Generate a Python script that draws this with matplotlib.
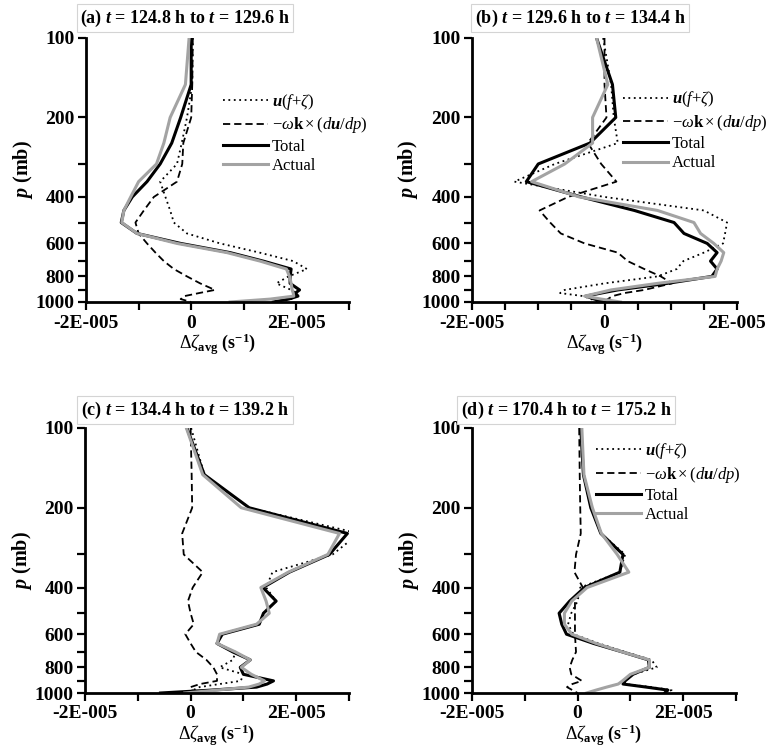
import matplotlib
matplotlib.use("Agg")
import matplotlib.pyplot as plt
from matplotlib.ticker import NullLocator

plt.rcParams['font.family'] = ['Liberation Serif', 'DejaVu Serif']
plt.rcParams['mathtext.fontset'] = 'custom'
plt.rcParams['mathtext.rm'] = 'Liberation Serif'
plt.rcParams['mathtext.it'] = 'Liberation Serif:italic'
plt.rcParams['mathtext.bf'] = 'Liberation Serif:bold'
plt.rcParams['mathtext.bfit'] = 'Liberation Serif:italic:bold'

# pressure levels (mb)
levels = [100, 150, 200, 250, 300, 350, 400, 450, 500, 550, 600, 650, 700,
          750, 800, 850, 900, 925, 950, 975, 1000]

# vorticity change terms, in units of 1E-005 s-1
a_adv = [0.03, 0.02, -0.08, -0.18, -0.27, -0.59, -0.49, -0.40, -0.33, -0.08, 0.55,
         1.30, 1.94, 2.20, 1.85, 1.62, 1.90, 2.00, 1.98, 1.90, 1.70]
a_tilt = [0.03, 0.02, 0.00, -0.15, -0.17, -0.27, -0.71, -0.90, -1.06, -1.00, -0.84,
          -0.68, -0.52, -0.33, -0.08, 0.17, 0.45, 0.15, -0.13, -0.20, 0.00]
a_total = [0.00, 0.00, -0.20, -0.37, -0.59, -0.84, -1.12, -1.28, -1.33, -1.03, -0.20,
           0.74, 1.37, 1.90, 1.88, 1.88, 2.06, 1.98, 2.03, 1.85, 1.56]
a_actual = [-0.04, -0.11, -0.40, -0.52, -0.66, -1.00, -1.15, -1.28, -1.32, -1.03, -0.27,
            0.68, 1.31, 1.81, 1.87, 1.90, 1.92, 1.94, 1.95, 1.50, 0.74]

b_adv = [-0.02, 0.10, 0.14, 0.20, -0.75, -1.36, 0.00, 1.50, 1.85, 1.82, 1.79,
         1.50, 1.19, 1.09, 0.80, 0.00, -0.60, -0.67, -0.32, -0.20, -0.10]
b_tilt = [0.00, 0.00, 0.03, -0.25, -0.05, 0.18, -0.55, -0.98, -0.82, -0.66, -0.30,
          0.20, 0.35, 0.60, 0.85, 1.02, 0.60, 0.30, 0.12, 0.05, -0.01]
b_total = [-0.12, 0.12, 0.17, -0.22, -1.00, -1.18, -0.35, 0.45, 1.05, 1.20, 1.55,
           1.70, 1.60, 1.70, 1.62, 0.95, 0.20, -0.05, -0.28, -0.15, 0.00]
b_actual = [-0.12, 0.05, -0.18, -0.18, -0.60, -1.10, -0.38, 0.80, 1.35, 1.45, 1.65,
            1.80, 1.76, 1.70, 1.67, 0.80, 0.10, -0.10, -0.30, -0.05, 0.24]

c_adv = [0.01, 0.26, 1.11, 3.19, 2.69, 1.55, 1.43, 1.62, 1.38, 1.30, 0.60,
         0.50, 0.85, 0.80, 0.55, 1.00, 0.95, 0.55, 0.17, 0.05, 0.10]
c_tilt = [0.00, 0.02, 0.03, -0.16, -0.13, 0.23, 0.04, -0.05, 0.00, 0.06, -0.10,
          0.00, 0.10, 0.30, 0.43, 0.50, 0.50, 0.18, 0.00, 0.05, -0.10]
c_total = [-0.07, 0.26, 1.11, 2.97, 2.63, 1.87, 1.37, 1.62, 1.38, 1.30, 0.60,
           0.50, 0.80, 1.13, 0.94, 1.00, 1.57, 1.45, 1.25, 0.40, -0.57]
c_actual = [-0.08, 0.23, 0.96, 2.82, 2.60, 1.85, 1.33, 1.43, 1.49, 1.25, 0.55,
            0.50, 0.85, 1.13, 0.96, 1.15, 1.40, 1.30, 1.10, 0.50, -0.11]

d_adv = [0.06, 0.11, 0.25, 0.44, 0.90, 0.80, 0.05, 0.00, -0.12, -0.18, -0.08,
         0.40, 0.90, 1.40, 1.50, 1.05, 0.90, 0.90, 1.40, 1.78, 1.60]
d_tilt = [0.03, 0.04, 0.05, 0.06, -0.03, -0.06, 0.10, -0.05, -0.05, -0.05, -0.05,
          -0.04, -0.03, -0.10, -0.15, -0.12, 0.08, -0.10, -0.20, -0.10, 0.00]
d_total = [0.06, 0.11, 0.25, 0.44, 0.86, 0.80, 0.13, -0.15, -0.35, -0.30, -0.21,
           0.30, 0.85, 1.34, 1.36, 1.05, 0.90, 0.86, 1.30, 1.71, 1.65]
d_actual = [0.08, 0.12, 0.28, 0.45, 0.75, 0.97, 0.18, -0.11, -0.25, -0.25, -0.11,
            0.35, 0.85, 1.36, 1.36, 1.00, 0.85, 0.77, 0.55, 0.35, 0.17]

titles = ["(a) $\\mathbfit{t}$ = 124.8 h to $\\mathbfit{t}$ = 129.6 h",
          "(b) $\\mathbfit{t}$ = 129.6 h to $\\mathbfit{t}$ = 134.4 h",
          "(c) $\\mathbfit{t}$ = 134.4 h to $\\mathbfit{t}$ = 139.2 h",
          "(d) $\\mathbfit{t}$ = 170.4 h to $\\mathbfit{t}$ = 175.2 h"]
labels = [r"$\mathbfit{u}(f$+$\zeta)$", r"$-\omega\mathbf{k}\times(d\mathbfit{u}/dp)$",
          "Total", "Actual"]

p_ticks = [100, 200, 300, 400, 500, 600, 700, 800, 900, 1000]
p_ticklabels = ["100", "200", "", "400", "", "600", "", "800", "", "1000"]
x_ticks_wide = [-2, -1, 0, 1, 2, 3]
x_labels_wide = ["-2E-005", "", "0", "", "2E-005", ""]
x_ticks_narrow = [-2, -1.5, -1, -0.5, 0, 0.5, 1, 1.5, 2]
x_labels_narrow = ["-2E-005", "", "", "", "0", "", "", "", "2E-005"]

W, H = 767, 751
fig = plt.figure(figsize=(W / 100, H / 100), dpi=100)

# panel boxes in pixels: left, top, right, bottom
boxes = [(86, 38, 349, 302), (472, 38, 737, 302), (85, 428, 349, 693), (472, 428, 736, 693)]
title_pos = [(185, 18), (580, 18), (185, 410), (566, 410)]
legend_pos = [(0.52, 0.795), (0.57, 0.805), None, (0.47, 0.95)]
panels = [(a_adv, a_tilt, a_total, a_actual), (b_adv, b_tilt, b_total, b_actual),
          (c_adv, c_tilt, c_total, c_actual), (d_adv, d_tilt, d_total, d_actual)]

gray = '#a3a3a3'
for i, (data, box) in enumerate(zip(panels, boxes)):
    l, t, r, b = box
    ax = fig.add_axes([l / W, 1 - b / H, (r - l) / W, (b - t) / H])
    adv, tilt, total, actual = data
    ax.plot([v * 1e-5 for v in adv], levels, color='black', lw=1.3, ls=(0, (1, 2)), label=labels[0])
    ax.plot([v * 1e-5 for v in tilt], levels, color='black', lw=1.3, ls=(0, (4, 2.2)), label=labels[1])
    ax.plot([v * 1e-5 for v in total], levels, color='black', lw=2.2, label=labels[2])
    ax.plot([v * 1e-5 for v in actual], levels, color=gray, lw=2.2, label=labels[3])

    ax.set_yscale('log')
    ax.set_ylim(1000, 100)
    ax.set_yticks(p_ticks)
    ax.set_yticklabels(p_ticklabels)
    ax.yaxis.set_minor_locator(NullLocator())
    if i == 1:
        ax.set_xlim(-2e-5, 2e-5)
        ax.set_xticks([v * 1e-5 for v in x_ticks_narrow])
        ax.set_xticklabels(x_labels_narrow)
    else:
        ax.set_xlim(-2e-5, 3e-5)
        ax.set_xticks([v * 1e-5 for v in x_ticks_wide])
        ax.set_xticklabels(x_labels_wide)

    for s in ['top', 'right']:
        ax.spines[s].set_visible(False)
    for s in ['left', 'bottom']:
        ax.spines[s].set_linewidth(2.0)
    ax.tick_params(axis='both', width=1.6, length=6, labelsize=14)
    ax.tick_params(axis='y', pad=2)
    ax.tick_params(axis='x', pad=3)
    for lab in ax.get_xticklabels() + ax.get_yticklabels():
        lab.set_fontweight('bold')

    ax.set_ylabel(r"$\mathbfit{p}$ (mb)", fontsize=14.5, fontweight='bold')
    ax.yaxis.set_label_coords(-0.195, 0.5)
    ax.set_xlabel(r"$\Delta\zeta_{\mathbf{avg}}$ (s$^{\mathbf{-1}}$)", fontsize=13, fontweight='bold')
    ax.xaxis.set_label_coords(0.5, -0.112)

    tx, ty = title_pos[i]
    fig.text(tx / W, 1 - ty / H, titles[i], ha='center', va='center', fontsize=13,
             fontweight='bold',
             bbox=dict(boxstyle='square,pad=0.2', fc='white', ec='#d4d4d4', lw=0.8))

    if legend_pos[i] is not None:
        ax.legend(loc='upper left', bbox_to_anchor=legend_pos[i], frameon=False,
                  fontsize=12, handlelength=2.7, handletextpad=0.25,
                  labelspacing=0.2, borderpad=0, borderaxespad=0)

fig.savefig('out.png', dpi=100)
